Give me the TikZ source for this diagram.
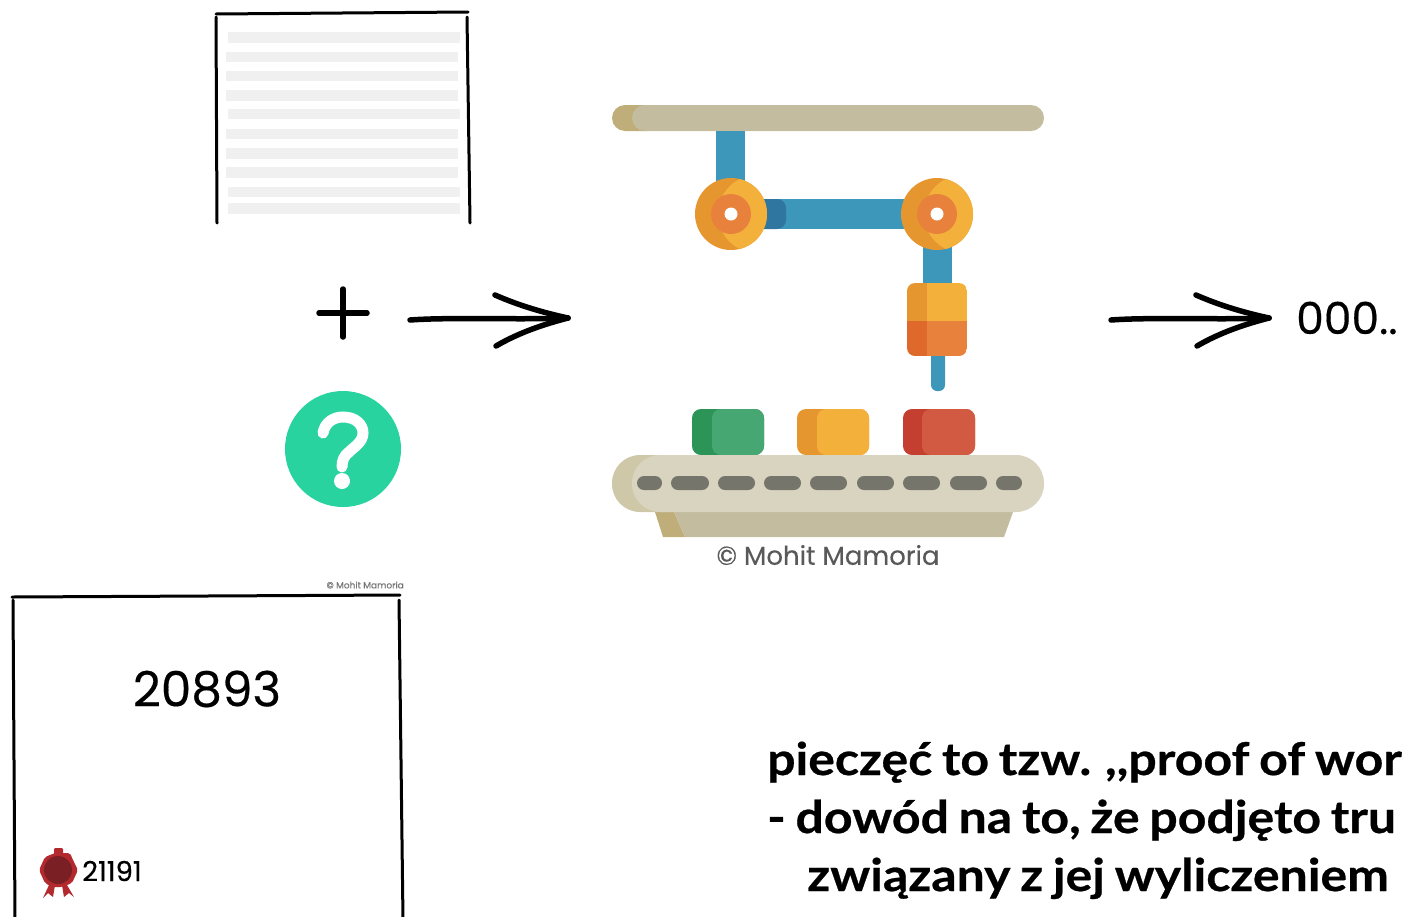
\documentclass[tikz,border=0pt]{standalone}
\usepackage{fontspec}
\usepackage{tikz}
\setmainfont{Lato}
\newfontfamily\roundfont{Poppins}[FakeBold=0.35]
\newfontfamily\notefont{Lato}[FakeStretch=1.11, FakeBold=0.6, WordSpace=0.8, UprightFont=* Bold]
\definecolor{armblue}{HTML}{3C97BA}
\definecolor{armdark}{HTML}{2F76A0}
\definecolor{railtan}{HTML}{C3BC9E}
\definecolor{raildark}{HTML}{BFAE7A}
\definecolor{beltlight}{HTML}{D9D4BF}
\definecolor{beltdark}{HTML}{CFC8A8}
\definecolor{slotgray}{HTML}{75756B}
\definecolor{jointlight}{HTML}{F3B13C}
\definecolor{jointdark}{HTML}{E5962E}
\definecolor{hubred}{HTML}{E8813C}
\definecolor{hubdark}{HTML}{DF692B}
\definecolor{boxgreen}{HTML}{47A772}
\definecolor{boxgreendark}{HTML}{2C9456}
\definecolor{boxred}{HTML}{D25A43}
\definecolor{boxreddark}{HTML}{C43F2F}
\definecolor{minttone}{HTML}{28D3A0}
\definecolor{rowgray}{HTML}{F0F0F0}
\definecolor{sealred}{HTML}{B22A2E}
\definecolor{sealdark}{HTML}{7A1F24}

\begin{document}
\begin{tikzpicture}[
  x=1pt, y=-1pt,
  sketch/.style={line width=3pt, line cap=round, black},
  penline/.style={line width=5.5pt, line cap=round, black},
  digits/.style={inner sep=0pt, font=\roundfont\fontsize{#1}{#1}\selectfont},
  note/.style={anchor=base west, inner sep=0pt, font=\notefont\fontsize{45}{45}\selectfont},
  crate/.style={rounded corners=9pt},
]
  \useasboundingbox (0,0) rectangle (1404,916);

  % Sheet with text rows
  \coordinate (sheetTL) at (216,14);
  \coordinate (sheetTR) at (468,12);
  \foreach \rowx/\rowtop/\rowbot in {228/32/43, 226/52/62, 226/71/81, 226/90/101, 228/109/119,
      226/129/139, 226/148/159, 226/167/178, 228/187/197, 228/203/214}
    \fill[rowgray] (\rowx,\rowtop) rectangle (\rowx+232,\rowbot);
  \draw[sketch] (sheetTL) -- (sheetTR);
  \draw[sketch] (216,17) -- (217,223);
  \draw[sketch] (467,17) -- (470,223);

  % Plus sign and mystery number
  \draw[penline] (319,313) -- (367,313);
  \draw[penline] (343,289) -- (343,337);
  \node[circle, fill=minttone, minimum size=116pt, inner sep=0pt] (mystery) at (343,449) {};
  \draw[white, line width=11pt, line cap=round]
    (323,433) .. controls (325,422) and (334,417) .. (343,417)
    .. controls (355,417) and (363,424) .. (363,433)
    .. controls (363,442) and (354,447) .. (349,452)
    .. controls (344,456) and (342,460) .. (342,467);
  \fill[white] (342,481) circle[radius=8];

  % Hand drawn arrows
  \foreach \name/\dx in {feed/0, out/701} {
    \begin{scope}[xshift=\dx]
      \coordinate (\name start) at (410,320);
      \coordinate (\name tip) at (568,318);
      \coordinate (\name up) at (495,295);
      \coordinate (\name down) at (496,346);
      \draw[penline] (\name start) .. controls (450,317) and (520,320) .. (\name tip);
      \draw[penline] (\name up) .. controls (520,306) and (545,313) .. (\name tip);
      \draw[penline] (\name down) .. controls (520,332) and (545,324) .. (\name tip);
    \end{scope}
  }
  \node[digits=44, anchor=west] (result) at (1296,318) {000..};

  % Overhead rail
  \fill[raildark, rounded corners=13pt] (612,105) rectangle (660,131);
  \fill[railtan, rounded corners=13pt] (632,105) rectangle (1044,131);

  % Robot arm
  \fill[armblue] (716,131) rectangle (745,190);
  \fill[armblue] (760,199) rectangle (910,229);
  \fill[armdark, rounded corners=9pt] (750,199) rectangle (786,229);
  \fill[armblue] (923,240) rectangle (952,290);
  \fill[armblue, rounded corners=6pt] (931,345) rectangle (945,391);
  \foreach \jointx in {731,937} {
    \fill[jointdark] (\jointx,214) circle[radius=36];
    \begin{scope}
      \clip (\jointx,214) circle[radius=36];
      \fill[jointlight] (\jointx+26,214) circle[radius=39];
    \end{scope}
    \fill[hubred] (\jointx,214) circle[radius=20];
    \fill[white] (\jointx,214) circle[radius=6.5];
  }

  % Arm head
  \begin{scope}
    \clip[rounded corners=8pt] (907,283) rectangle (967,356);
    \fill[jointdark] (907,283) rectangle (927,321);
    \fill[jointlight] (927,283) rectangle (967,321);
    \fill[hubdark] (907,321) rectangle (927,356);
    \fill[hubred] (927,321) rectangle (967,356);
  \end{scope}

  % Crates on the belt
  \foreach \cratex/\splitx/\cdark/\clight in {692/712/boxgreendark/boxgreen,
      797/817/jointdark/jointlight, 903/922/boxreddark/boxred} {
    \fill[\cdark, crate] (\cratex,409) rectangle (\cratex+72,455);
    \fill[\clight, crate] (\splitx,409) rectangle (\cratex+72,455);
  }

  % Conveyor belt
  \fill[raildark] (655,512) -- (674,512) -- (685,537) -- (663,537) -- cycle;
  \fill[railtan] (674,512) -- (1013,512) -- (1004,537) -- (685,537) -- cycle;
  \fill[beltdark, rounded corners=28pt] (612,455) rectangle (700,512);
  \fill[beltlight, rounded corners=28pt] (632,455) rectangle (1044,512);
  \foreach \slotl/\slotr in {637/662, 671/709, 718/755, 764/801, 810/847, 857/894, 903/940, 950/987, 996/1022}
    \fill[slotgray, rounded corners=7pt] (\slotl,476) rectangle (\slotr,490);
  \node[digits=26, text=black!65, anchor=center] (credit) at (828,555) {© Mohit Mamoria};

  % Lower sheet
  \node[digits=9, text=black!55, anchor=east] (smallcredit) at (404,585) {© Mohit Mamoria};
  \coordinate (lowerTL) at (12,597);
  \coordinate (lowerTR) at (400,595);
  \draw[sketch] (lowerTL) -- (lowerTR);
  \draw[sketch] (13,600) -- (15,920);
  \draw[sketch] (399,600) -- (403,920);
  \node[digits=48.5] (nonce) at (207,689) {20893};

  % Wax seal
  \fill[sealred] (43,898) -- (49,885) -- (55,885) -- (53,897) -- (48,893) -- cycle;
  \fill[sealred] (74,897) -- (67,885) -- (62,885) -- (64,897) -- (69,893) -- cycle;
  \fill[sealred, rounded corners=1pt] (54,848) rectangle (63,856);
  \fill[sealred, rounded corners=2pt] (39,870) -- (45,857) -- (55,853) -- (70,853) -- (73,860)
    -- (78,870) -- (72,883) -- (62,887) -- (52,887) -- (45,883) -- cycle;
  \fill[sealdark] (58,870) circle[radius=14];
  \node[digits=27.5, anchor=west] (hash) at (82,871) {21191};

  % Note on the seal
  \node[note] (noteA) at (767,775) {pieczęć to tzw. ,,proof of wor};
  \node[note] (noteB) at (767,833) {- dowód na to, że podjęto tru};
  \node[note] (noteC) at (807,891) {związany z jej wyliczeniem};
\end{tikzpicture}
\end{document}
